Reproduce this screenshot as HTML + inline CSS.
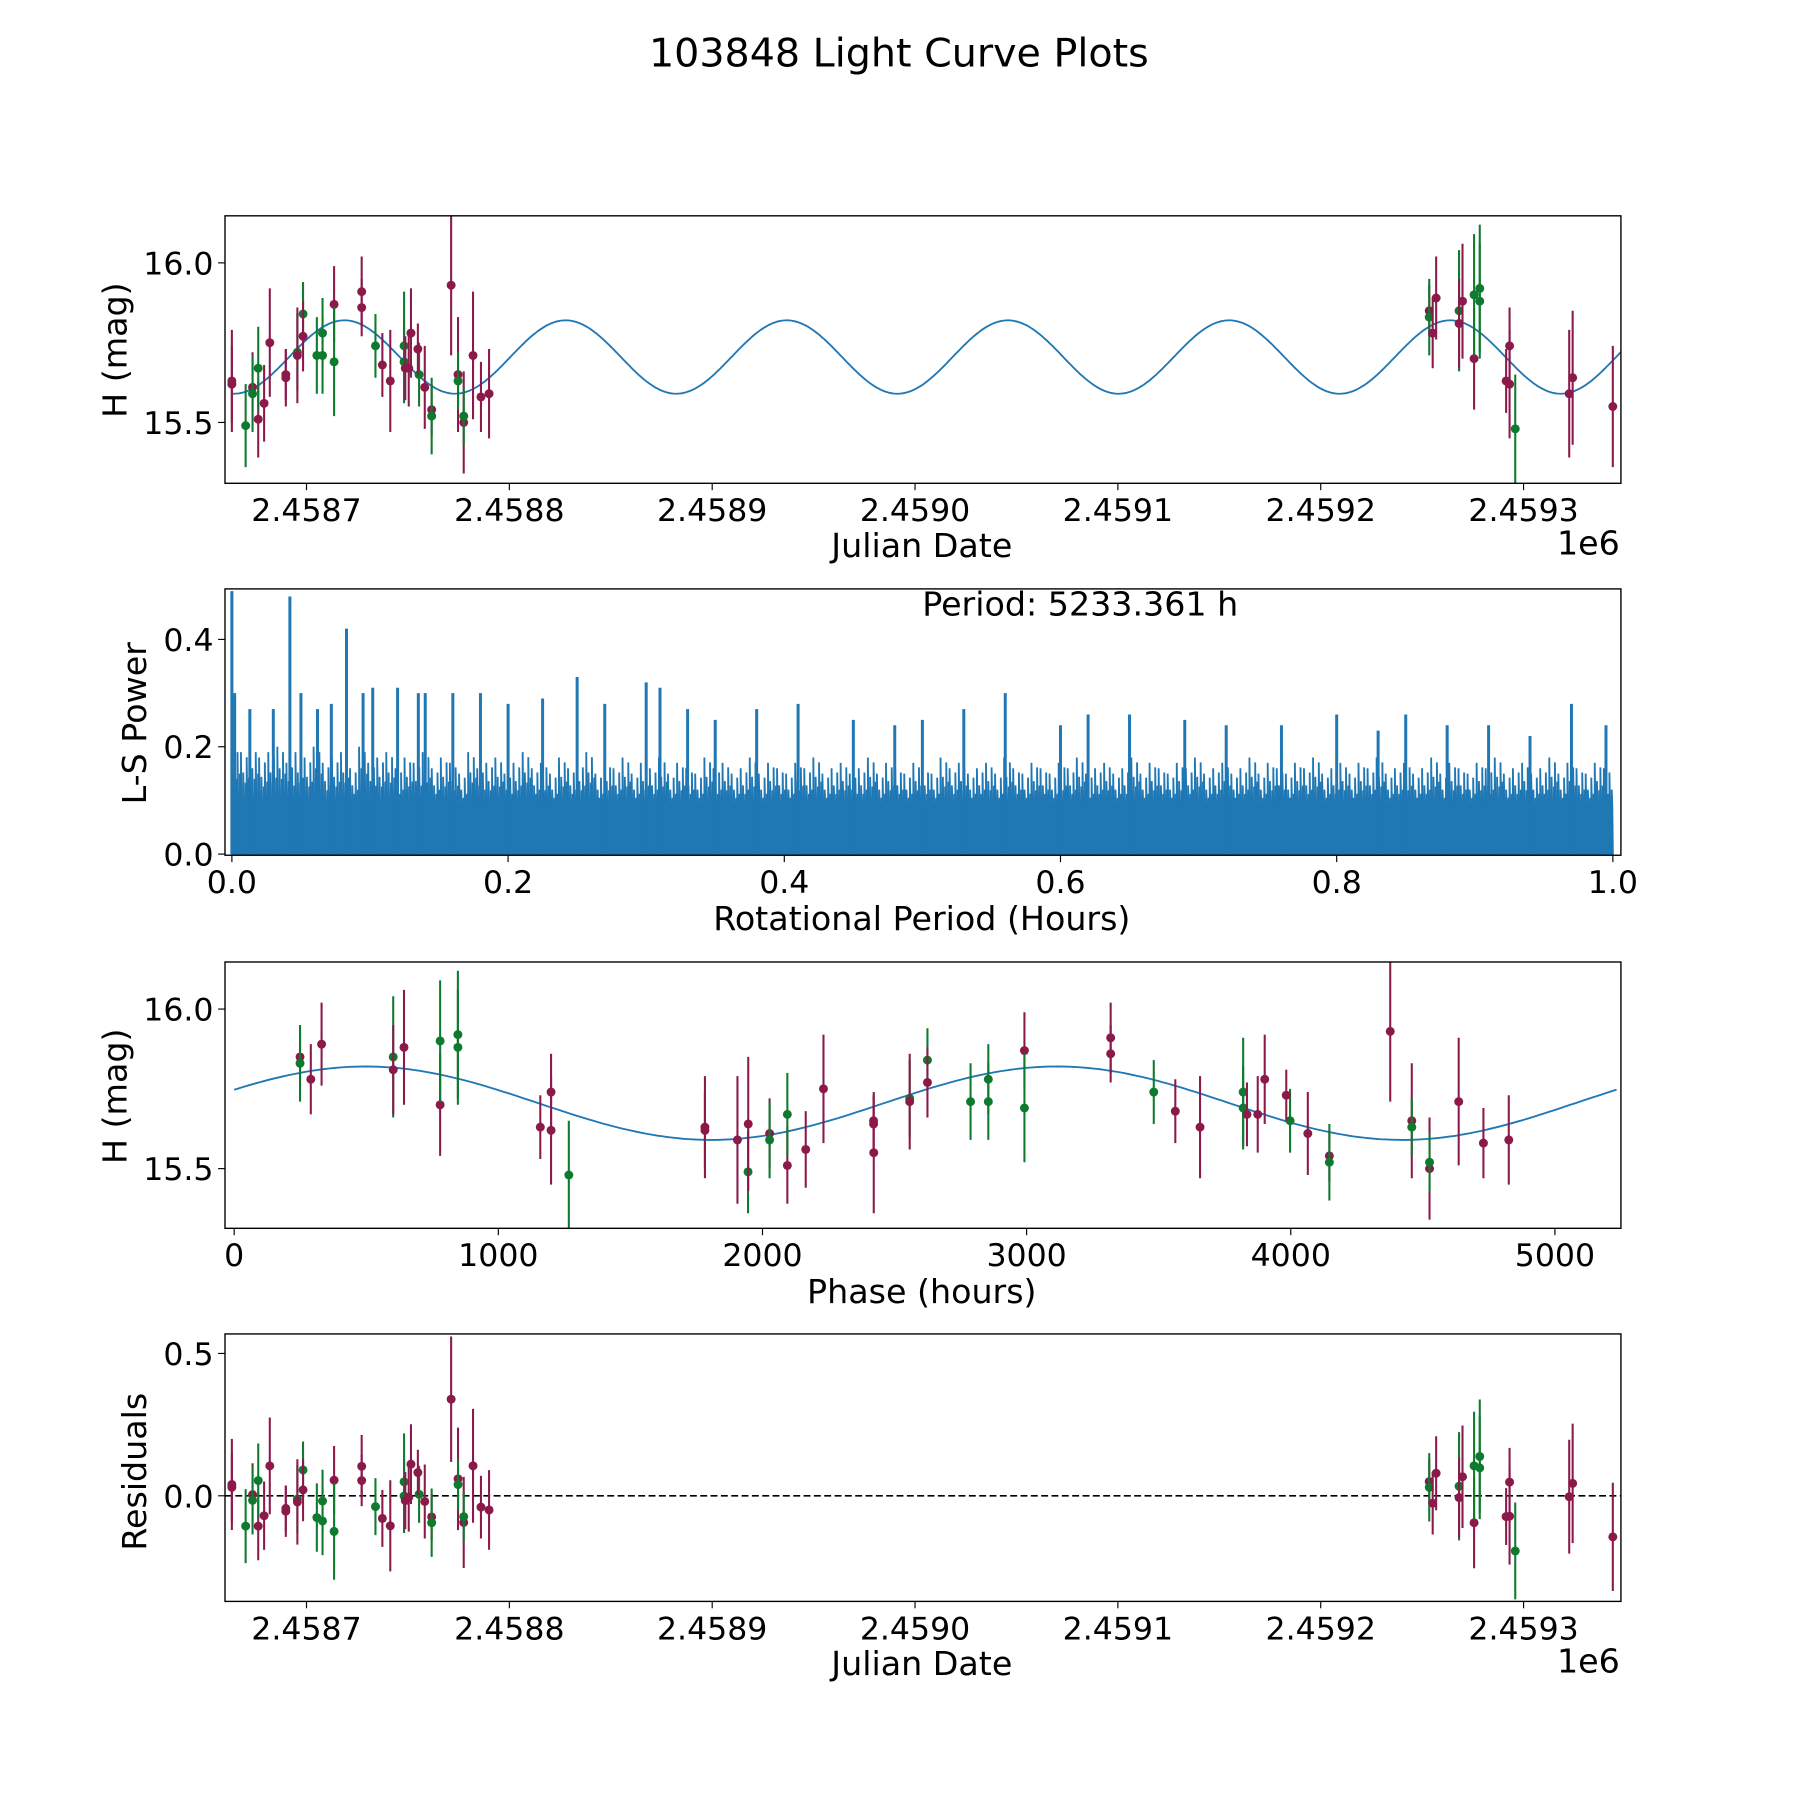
<!DOCTYPE html>
<html><head><meta charset="utf-8"><style>
html,body{margin:0;padding:0;background:#fff}
svg{display:block}
text{font-family:"DejaVu Sans","Liberation Sans",sans-serif;fill:#000}
</style></head><body>
<svg id="fig" width="1800" height="1800" viewBox="0 0 1568 1568" xmlns="http://www.w3.org/2000/svg">
<rect width="1568" height="1568" fill="#fff"/>
<text x="783" y="58" font-size="34.5" text-anchor="middle">103848 Light Curve Plots</text>
<g id="g1"></g>
<g id="g2"></g>
<g id="g3"></g>
<g id="g4"></g>
</svg>
<script>
// Observation times (days relative to 2458700), magnitudes, errors, band (m=maroon, g=green)
const times=[-36.8,-36.8,-30,-26.6,-26.6,-23.8,-23.8,-20.9,-18.1,-10.2,-10.2,-4.5,-4.5,-1.7,-1.7,5.1,7.9,7.9,13.6,13.6,27.2,27.2,34,37.4,41.3,48.1,48.1,48.7,50.4,51.5,55.5,54.9,58.3,61.7,61.7,71.3,74.7,74.7,77.5,77.5,82.1,86,90,
553.5,553.5,555.2,556.9,568.2,568.2,569.9,575.6,575.6,578.4,578.4,591.4,593.1,593.1,595.9,622.5,624.2,644];
const mags=[15.63,15.62,15.49,15.61,15.59,15.51,15.67,15.56,15.75,15.64,15.65,15.72,15.71,15.84,15.77,15.71,15.71,15.78,15.87,15.69,15.91,15.86,15.74,15.68,15.63,15.74,15.69,15.67,15.67,15.78,15.65,15.73,15.61,15.54,15.52,15.93,15.65,15.63,15.50,15.52,15.71,15.58,15.59,
15.85,15.83,15.78,15.89,15.85,15.81,15.88,15.70,15.90,15.92,15.88,15.63,15.74,15.62,15.48,15.59,15.64,15.55];
const errs=[0.16,0.12,0.13,0.11,0.12,0.12,0.13,0.12,0.17,0.09,0.08,0.12,0.15,0.1,0.11,0.12,0.12,0.11,0.12,0.17,0.11,0.09,0.1,0.1,0.16,0.17,0.13,0.1,0.12,0.14,0.1,0.08,0.13,0.08,0.12,0.22,0.18,0.09,0.16,0.09,0.2,0.11,0.14,
0.08,0.12,0.11,0.13,0.19,0.14,0.18,0.16,0.19,0.2,0.18,0.1,0.12,0.17,0.17,0.2,0.21,0.19];
const bands="mmgmgmgmmmmgmgmgggmgmmgmmggmmmgmmmgmmgmgmmm"+"mgmmgmmmgggmmmgmmmm";
const modelMean=15.705, modelAmp=0.115, halfPeriodDays=109.03, peakT=18.7, periodHours=5233.361, epochT=107.0;
// Periodogram: prominent peaks (period hours, power) and noise envelope
const peakF=[0.0,0.002,0.042,0.083,0.013,0.03,0.05,0.062,0.072,0.095,0.102,0.12,0.135,0.14,0.16,0.18,0.2,0.225,0.25,0.27,0.3,0.31,0.33,0.35,0.38,0.41,0.45,0.48,0.5,0.53,0.56,0.6,0.62,0.65,0.69,0.72,0.76,0.8,0.83,0.85,0.88,0.91,0.94,0.97,0.995];
const peakP=[0.49,0.3,0.48,0.42,0.27,0.27,0.3,0.27,0.28,0.3,0.31,0.31,0.3,0.3,0.3,0.3,0.28,0.29,0.33,0.28,0.32,0.31,0.27,0.25,0.27,0.28,0.25,0.24,0.25,0.27,0.3,0.24,0.26,0.26,0.25,0.24,0.24,0.26,0.23,0.26,0.24,0.24,0.22,0.28,0.24];
const noise=[0.2,0.19,0.2,0.18,0.19,0.2,0.17,0.19,0.18,0.2,0.17,0.18,0.19,0.16,0.2,0.17,0.18,0.19,0.16,0.18,0.17,0.19,0.16,0.18,0.17,0.15,0.19,0.16,0.17,0.18,0.15,0.17,0.19,0.16,0.17,0.15,0.18,0.16,0.17,0.19,0.15,0.17,0.16,0.18,0.15,0.17,0.16,0.18,0.15,0.17,0.16,0.15,0.18,0.16,0.17,0.15,0.16,0.18,0.15,0.17,0.16,0.15,0.17,0.16,0.18,0.15,0.16,0.17,0.15,0.16,0.18,0.15,0.17,0.16,0.15,0.17,0.16,0.15,0.18,0.16,0.17,0.15,0.16,0.17,0.15,0.18,0.16,0.15,0.17,0.16,0.15,0.17,0.16,0.18,0.15,0.16,0.17,0.15,0.16,0.18,0.15,0.17,0.16,0.15,0.17,0.16,0.18,0.15,0.16,0.17,0.15,0.16,0.18,0.15,0.17,0.16,0.15,0.17,0.16,0.18,0.15,0.16,0.17,0.15,0.17,0.16,0.18,0.15,0.16,0.17,0.15,0.16,0.18,0.15,0.17,0.16,0.15,0.17,0.16,0.18,0.15,0.16,0.17,0.15,0.16,0.18,0.15,0.17,0.16,0.15,0.17,0.16];
const jdTicks=[0,100,200,300,400,500,600];
const jdTickLabels=["2.4587","2.4588","2.4589","2.4590","2.4591","2.4592","2.4593"];
const magTicks=[15.5,16.0], magTickLabels=["15.5","16.0"];
const pTicks=[0,0.2,0.4,0.6,0.8,1.0], pTickLabels=["0.0","0.2","0.4","0.6","0.8","1.0"];
const powTicks=[0,0.2,0.4], powTickLabels=["0.0","0.2","0.4"];
const phTicks=[0,1000,2000,3000,4000,5000], phTickLabels=["0","1000","2000","3000","4000","5000"];
const resTicks=[0,0.5], resTickLabels=["0.0","0.5"];

const NS="http://www.w3.org/2000/svg";
const MAROON="#8b1a4b", GREEN="#0e7a2e", BLUE="#1f77b4";
function mk(tag,parent,attrs){const e=document.createElementNS(NS,tag);for(const k in attrs)e.setAttribute(k,attrs[k]);parent.appendChild(e);return e;}
function model(t){return modelMean+modelAmp*Math.cos(2*Math.PI*(t-peakT)/halfPeriodDays);}
const X1=t=>267+t*1.767, Ymag1=m=>229-(m-16)*278;
const X2=f=>202+f*1203, Y2=p=>744-p*467.5;
const X3=h=>204+h*0.2301, Ymag3=m=>879-(m-16)*278;
const Y4=r=>1303-r*248;
const TF=27.5, LF=29;

function frame(g,x0,y0,x1,y1){
  const r=mk('rect',g,{x:x0,y:y0,width:x1-x0,height:y1-y0,fill:'none',stroke:'#000','stroke-width':1.2});
  
  
}
function xticks(g,vals,labels,sx,y1){
  vals.forEach((v,i)=>{const x=sx(v);
    const l=mk('line',g,{x1:x,x2:x,y1:y1,y2:y1+6,stroke:'#000','stroke-width':1});
    
    
    const t=mk('text',g,{x:x,y:y1+33,'font-size':TF,'text-anchor':'middle'});t.textContent=labels[i];
    
    });
}
function yticks(g,vals,labels,sy,x0){
  vals.forEach((v,i)=>{const y=sy(v);
    const l=mk('line',g,{x1:x0-6,x2:x0,y1:y,y2:y,stroke:'#000','stroke-width':1});
    
    
    const t=mk('text',g,{x:x0-10,y:y+10,'font-size':TF,'text-anchor':'end'});t.textContent=labels[i];
    
    });
}
function label(g,txt,x,y,rot,name){
  const t=mk('text',g,{x:x,y:y,'font-size':LF,'text-anchor':'middle'});
  if(rot)t.setAttribute('transform',`rotate(-90 ${x} ${y})`);
  t.textContent=txt;
  
  
}
function clip(id,x0,y0,x1,y1){const svg=document.getElementById('fig');let d=svg.querySelector('defs')||mk('defs',svg,{});
  const c=mk('clipPath',d,{id:id});mk('rect',c,{x:x0,y:y0,width:x1-x0,height:y1-y0});}
function points(g,xs,ys,es,sy){
  xs.forEach((x,i)=>{const col=bands[i]==='g'?GREEN:MAROON;const y=ys[i];
    const l=mk('line',g,{x1:x,x2:x,y1:y-es[i]*278*(sy||1),y2:y+es[i]*278*(sy||1),stroke:col,'stroke-width':1.8});
    
    
    const c=mk('circle',g,{cx:x,cy:y,r:3.9,fill:col});
    
    });
}

// Panel 1
(function(){const g=document.getElementById('g1');clip('c1',196,188,1412,421);
  const inner=mk('g',g,{'clip-path':'url(#c1)'});
  let d='';for(let t=-37;t<=648;t+=1){d+=(d?'L':'M')+X1(t).toFixed(1)+','+Ymag1(model(t)).toFixed(1);}
  const p=mk('path',inner,{d:d,fill:'none',stroke:BLUE,'stroke-width':1.6});
  
  
  points(inner,times.map(X1),mags.map(Ymag1),errs,1);
  frame(g,196,188,1412,421);xticks(g,jdTicks,jdTickLabels,X1,421);yticks(g,magTicks,magTickLabels,Ymag1,196);
  label(g,'Julian Date',803,485,false,'x-axis-title');label(g,'H (mag)',110,305,true,'y-axis-title');
  const e=mk('text',g,{x:1411,y:483,'font-size':LF,'text-anchor':'end'});e.textContent='1e6';
  
  
})();

// Panel 2
(function(){const g=document.getElementById('g2');clip('c2',196,513,1412,745);
  const inner=mk('g',g,{'clip-path':'url(#c2)'});
  const n=noise.length;let d='M'+X2(0)+','+Y2(0);
  const sub=[1,0.55,0.8,0.45,0.7,0.95,0.5,0.75];
  for(let i=0;i<n;i++){const f0=i/n,f1=(i+1)/n;
    for(let k=0;k<sub.length;k++){const fa=f0+(f1-f0)*k/sub.length, fb=f0+(f1-f0)*(k+0.5)/sub.length;
      const h=Math.max(0.09,noise[i]*sub[k]);
      d+='L'+X2(fa).toFixed(1)+','+Y2(0.09).toFixed(1)+'L'+X2(fa).toFixed(1)+','+Y2(h).toFixed(1)+'L'+X2(fb).toFixed(1)+','+Y2(0.09).toFixed(1);}
  }
  d+='L'+X2(1)+','+Y2(0)+'Z';
  const p=mk('path',inner,{d:d,fill:BLUE,stroke:BLUE,'stroke-width':1.6,'stroke-linejoin':'bevel'});
  
  
  peakF.forEach((f,i)=>{const l=mk('line',inner,{x1:X2(f),x2:X2(f),y1:Y2(0),y2:Y2(peakP[i]),stroke:BLUE,'stroke-width':2.6});
    
    });
  frame(g,196,513,1412,745);xticks(g,pTicks,pTickLabels,X2,745);yticks(g,powTicks,powTickLabels,Y2,196);
  label(g,'Rotational Period (Hours)',803,810,false,'x-axis-title');label(g,'L-S Power',127,630,true,'y-axis-title');
  const t=mk('text',g,{x:941,y:536,'font-size':LF,'text-anchor':'middle'});t.textContent='Period: 5233.361 h';
  
  
})();

// Panel 3
(function(){const g=document.getElementById('g3');clip('c3',196,838,1412,1070);
  const inner=mk('g',g,{'clip-path':'url(#c3)'});
  let d='';for(let h=0;h<=periodHours;h+=20){d+=(d?'L':'M')+X3(h).toFixed(1)+','+Ymag3(model(epochT+h/24)).toFixed(1);}
  d+='L'+X3(periodHours).toFixed(1)+','+Ymag3(model(epochT+periodHours/24)).toFixed(1);
  const p=mk('path',inner,{d:d,fill:'none',stroke:BLUE,'stroke-width':1.6});
  
  
  const ph=times.map(t=>{let v=((t-epochT)*24)%periodHours;if(v<0)v+=periodHours;return v;});
  points(inner,ph.map(X3),mags.map(Ymag3),errs,1);
  frame(g,196,838,1412,1070);xticks(g,phTicks,phTickLabels,X3,1070);yticks(g,magTicks,magTickLabels,Ymag3,196);
  label(g,'Phase (hours)',803,1135,false,'x-axis-title');label(g,'H (mag)',110,955,true,'y-axis-title');
})();

// Panel 4
(function(){const g=document.getElementById('g4');clip('c4',196,1162,1412,1395);
  const inner=mk('g',g,{'clip-path':'url(#c4)'});
  const z=mk('line',inner,{x1:196,x2:1412,y1:Y4(0),y2:Y4(0),stroke:'#000','stroke-width':1.4,'stroke-dasharray':'6,3'});
  
  
  const res=mags.map((m,i)=>m-model(times[i]));
  points(inner,times.map(X1),res.map(Y4),errs,248/278);
  frame(g,196,1162,1412,1395);xticks(g,jdTicks,jdTickLabels,X1,1395);yticks(g,resTicks,resTickLabels,Y4,196);
  label(g,'Julian Date',803,1459,false,'x-axis-title');label(g,'Residuals',127,1282,true,'y-axis-title');
  const e=mk('text',g,{x:1411,y:1457,'font-size':LF,'text-anchor':'end'});e.textContent='1e6';
  
  
})();
</script>
</body></html>
